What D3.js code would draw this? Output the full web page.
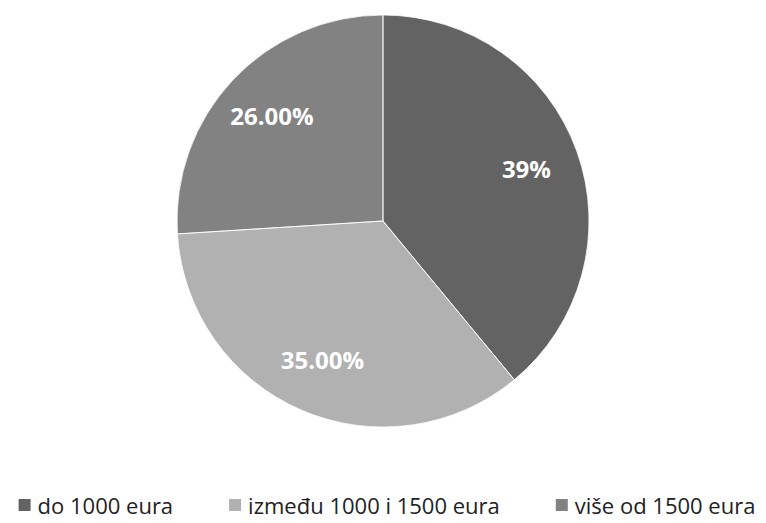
<!DOCTYPE html>
<html>
<head>
<meta charset="utf-8">
<script src="https://cdn.jsdelivr.net/npm/d3@7"></script>
<style>
  body { margin: 0; background: #fff; }
  text { font-family: "Open Sans", sans-serif; }
</style>
</head>
<body>
<svg width="766" height="523"></svg>
<script>
// data
let categories = ["do 1000 eura", "između 1000 i 1500 eura", "više od 1500 eura"];
let shares = [39, 35, 26];
let labels = ["39%", "35.00%", "26.00%"];
let colors = ["#636363", "#b1b1b1", "#828282"];

let width = 766;
let height = 523;
let radius = 206;
let cx = 383, cy = 221;

var svg = d3.select("svg");
var g = svg.append("g").attr("transform", "translate(" + cx + "," + cy + ")");

let pie = d3.pie().sort(null).value(function(d) { return d; });
let arcs = pie(shares);

let arc = d3.arc().innerRadius(0).outerRadius(radius);
let labelArc = d3.arc().innerRadius(radius * 0.74).outerRadius(radius * 0.74);

let color = d3.scaleOrdinal().domain(categories).range(colors);

// slices
g.selectAll("path.slice")
  .data(arcs)
  .enter().append("path")
  .attr("class", "slice")
  .attr("d", arc)
  .attr("fill", function(d, i) { return color(categories[i]); })
  .attr("stroke", "none");

// thin white separators like excel
g.selectAll("path.sep")
  .data(arcs)
  .enter().append("path")
  .attr("class", "sep")
  .attr("d", arc)
  .attr("fill", "none")
  .attr("stroke", "#fff")
  .attr("stroke-width", 0.75)
  .attr("stroke-linejoin", "round");

// data labels
g.selectAll("text.lbl")
  .data(arcs)
  .enter().append("text")
  .attr("class", "lbl")
  .attr("transform", function(d) { return "translate(" + labelArc.centroid(d) + ")"; })
  .attr("text-anchor", "middle")
  .attr("dy", "0.35em")
  .attr("fill", "#fff")
  .attr("font-weight", "bold")
  .attr("font-size", 24)
  .text(function(d, i) { return labels[i]; });

// legend, centred along the bottom
let legend = svg.append("g").attr("class", "legend");
let box = 12, boxGap = 7, itemGap = 56;
let items = legend.selectAll("g.item")
  .data(categories)
  .enter().append("g")
  .attr("class", "item");

items.append("rect")
  .attr("width", box)
  .attr("height", box)
  .attr("y", -box / 2 - 1)
  .attr("fill", function(d) { return color(d); });

items.append("text")
  .attr("x", box + boxGap)
  .attr("dy", "0.35em")
  .attr("font-size", 22)
  .attr("fill", "#222")
  .text(function(d) { return d; });

let widths = [];
items.each(function() {
  widths.push(box + boxGap + d3.select(this).select("text").node().getComputedTextLength());
});
let total = d3.sum(widths) + itemGap * (widths.length - 1);
let x0 = cx + 4 - total / 2;
items.attr("transform", function(d, i) {
  let x = x0 + d3.sum(widths.slice(0, i)) + itemGap * i;
  return "translate(" + x + "," + 506 + ")";
});
</script>
</body>
</html>
